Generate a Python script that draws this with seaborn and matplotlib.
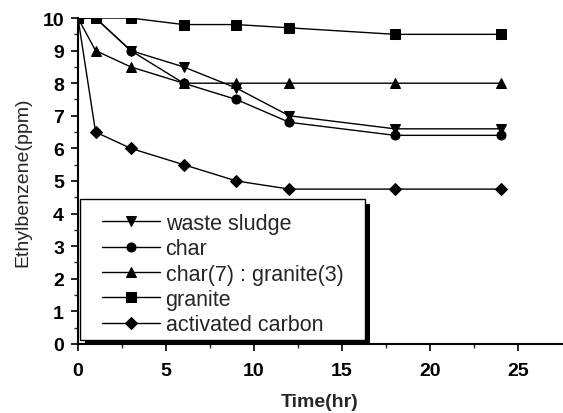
import matplotlib
matplotlib.use("Agg")
import matplotlib.pyplot as plt
import matplotlib.patches as mpatches
import seaborn as sns
import pandas as pd

time_hr = [0, 1, 3, 6, 9, 12, 18, 24]
waste_sludge = [10, 10, 9.0, 8.5, 7.85, 7.0, 6.6, 6.6]
char = [10, 10, 9.0, 8.0, 7.5, 6.8, 6.4, 6.4]
char_granite = [10, 9.0, 8.5, 8.0, 8.0, 8.0, 8.0, 8.0]
granite = [10, 10, 10, 9.8, 9.8, 9.7, 9.5, 9.5]
activated_carbon = [10, 6.5, 6.0, 5.5, 5.0, 4.75, 4.75, 4.75]

series_names = ["waste sludge", "char", "char(7) : granite(3)", "granite", "activated carbon"]
series_values = [waste_sludge, char, char_granite, granite, activated_carbon]
marker_list = ["v", "o", "^", "s", "D"]

rows = []
for name, vals in zip(series_names, series_values):
    for t, v in zip(time_hr, vals):
        rows.append({"Time": t, "Value": v, "Series": name})
df = pd.DataFrame(rows)

sns.set_theme(style="ticks")
plt.rcParams["font.family"] = ["Liberation Sans", "DejaVu Sans"]

W, H = 563, 414
fig = plt.figure(figsize=(W / 100, H / 100), dpi=100)
ax = fig.add_axes([0.1385, 0.167, 0.86, 0.787])

sns.lineplot(data=df, x="Time", y="Value", hue="Series", style="Series",
             hue_order=series_names, style_order=series_names,
             palette=["black"] * 5, markers=dict(zip(series_names, marker_list)),
             dashes=False, markersize=6.5, linewidth=1.0, markeredgecolor="black",
             ax=ax, legend=True)

ax.set_xlim(0, 27.5)
ax.set_ylim(0, 10)
ax.set_xticks([0, 5, 10, 15, 20, 25])
ax.set_xticks([2.5, 7.5, 12.5, 17.5, 22.5], minor=True)
ax.set_yticks(range(0, 11))
ax.set_yticks([i + 0.5 for i in range(10)], minor=True)
for s in ["top", "right"]:
    ax.spines[s].set_visible(False)
for s in ["left", "bottom"]:
    ax.spines[s].set_linewidth(1.5)
    ax.spines[s].set_color("black")
ax.tick_params(axis="both", which="major", direction="out", length=5, width=1.2,
               labelsize=14, colors="black", pad=5)
ax.tick_params(axis="x", which="major", pad=8)
ax.tick_params(axis="both", which="minor", direction="out", length=3, width=1.0)
for lab in ax.get_xticklabels() + ax.get_yticklabels():
    lab.set_fontweight("bold")
ax.set_xlabel("Time(hr)", fontsize=14, fontweight="bold", labelpad=10)
ax.set_ylabel("Ethylbenzene(ppm)", fontsize=14, labelpad=8)

# legend box (pixel layout, origin bottom-left)
bx0, bx1, by0, by1 = 80, 365, 73, 214
handles, labels = ax.get_legend_handles_labels()
leg = ax.legend(handles, labels, loc="center",
                bbox_to_anchor=((bx0 + bx1) / 2 / W, (by0 + by1) / 2 / H - 0.011),
                bbox_transform=fig.transFigure,
                fontsize=15.5, frameon=False, handlelength=2.7,
                borderpad=0.0, labelspacing=0.2, handletextpad=0.27,
                borderaxespad=0.0)
leg.set_zorder(10)

off = 5
shadow = mpatches.Rectangle(((bx0 + off) / W, (by0 - off) / H), (bx1 - bx0) / W, (by1 - by0) / H,
                            transform=fig.transFigure, facecolor="black", edgecolor="none",
                            zorder=8, clip_on=False)
frame = mpatches.Rectangle((bx0 / W, by0 / H), (bx1 - bx0) / W, (by1 - by0) / H,
                           transform=fig.transFigure, facecolor="white", edgecolor="black",
                           linewidth=1.0, zorder=9, clip_on=False)
ax.add_patch(shadow)
ax.add_patch(frame)

fig.savefig("out.png", dpi=100)
